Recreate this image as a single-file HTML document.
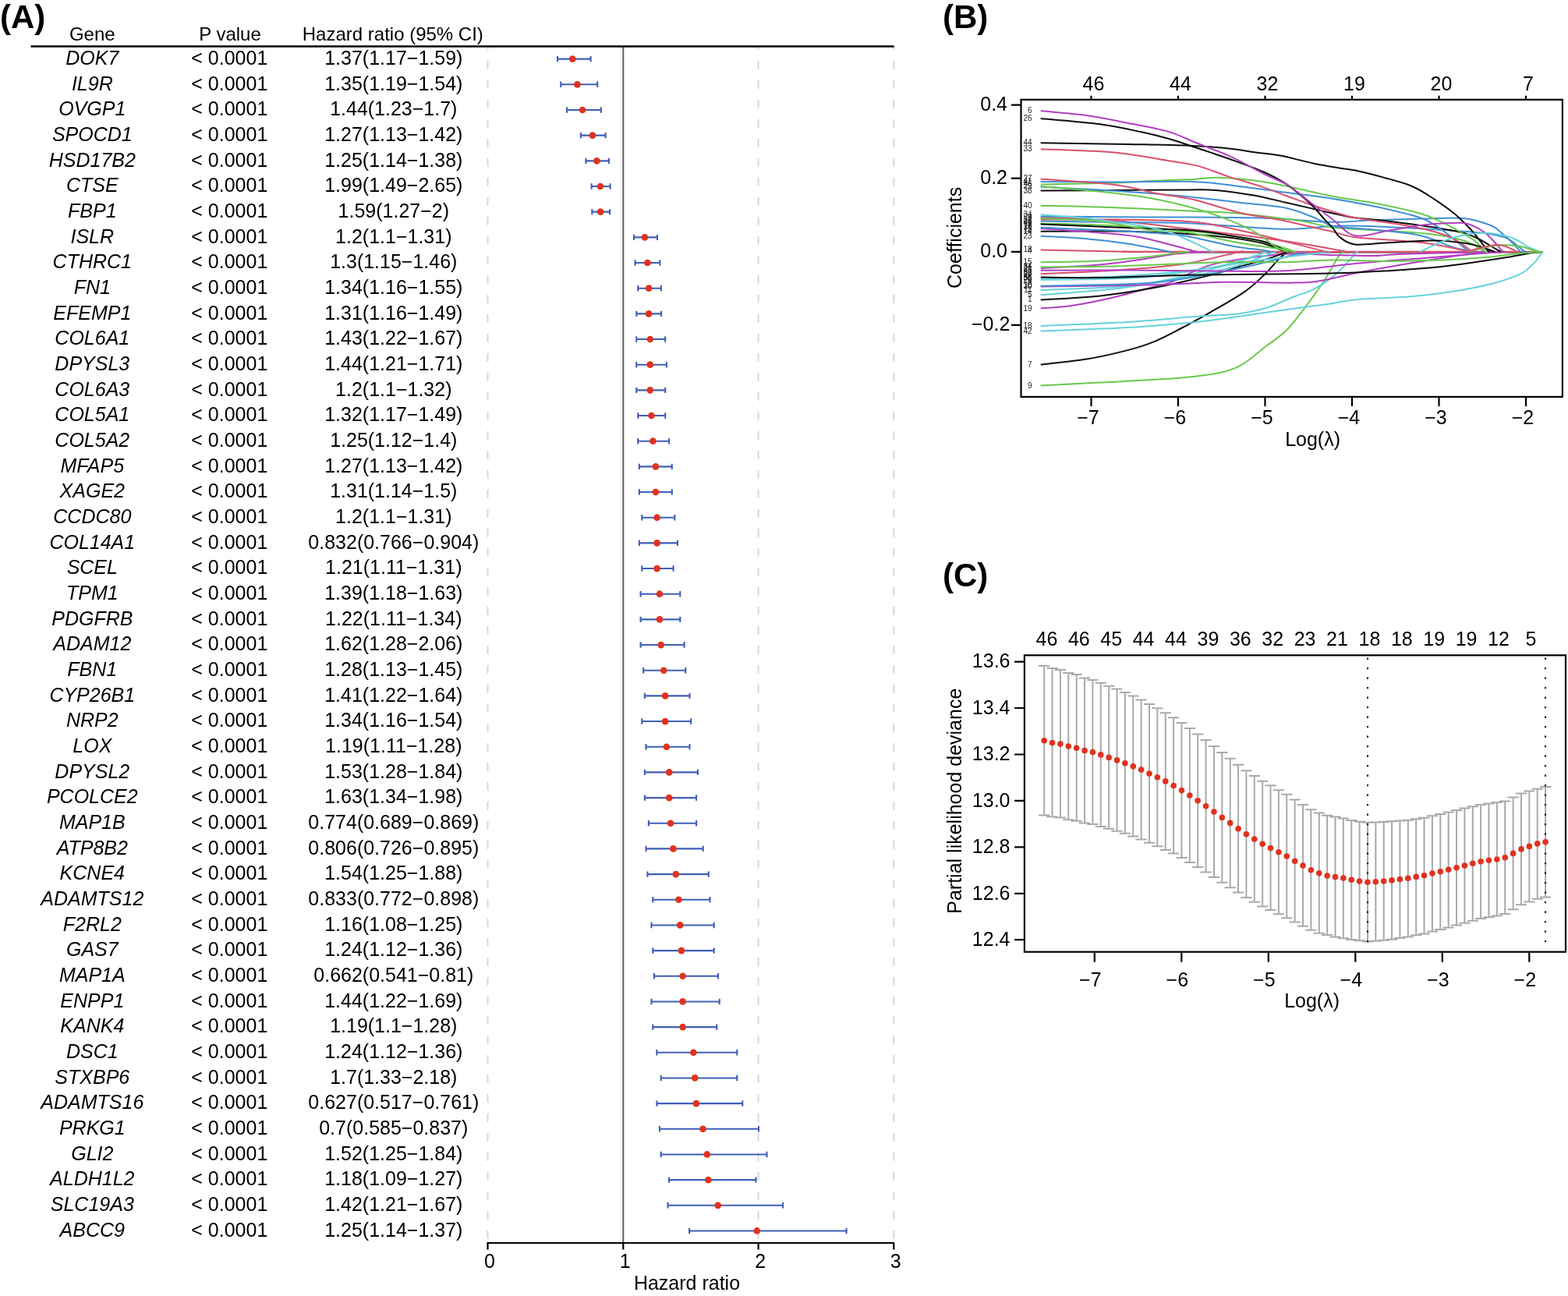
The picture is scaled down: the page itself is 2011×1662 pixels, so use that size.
<!DOCTYPE html>
<html><head><meta charset="utf-8"><title>Figure</title>
<style>html,body{margin:0;padding:0;background:#fff;}svg{display:block;}</style></head>
<body><svg width="2011" height="1662" viewBox="0 0 2011 1662">
<rect width="2011" height="1662" fill="#fff"/>
<line x1="625.5" y1="59" x2="625.5" y2="1594" stroke="#d6d6d6" stroke-width="1.9" stroke-dasharray="10.8 14.2" stroke-dashoffset="6"/>
<line x1="972.6" y1="59" x2="972.6" y2="1594" stroke="#d6d6d6" stroke-width="1.9" stroke-dasharray="10.8 14.2" stroke-dashoffset="6"/>
<line x1="1146.3" y1="59" x2="1146.3" y2="1594" stroke="#d6d6d6" stroke-width="1.9" stroke-dasharray="10.8 14.2" stroke-dashoffset="6"/>
<line x1="799.3" y1="59" x2="799.3" y2="1594" stroke="#5e5e5e" stroke-width="2"/>
<line x1="39.5" y1="59.5" x2="1146.5" y2="59.5" stroke="#000" stroke-width="2.4"/>
<text x="118.3" y="52.2" font-size="24" text-anchor="middle" font-family="Liberation Sans, sans-serif">Gene</text>
<text x="295" y="52.2" font-size="24" text-anchor="middle" font-family="Liberation Sans, sans-serif">P value</text>
<text x="503.8" y="52.2" font-size="24" text-anchor="middle" font-family="Liberation Sans, sans-serif">Hazard ratio (95% CI)</text>
<g font-size="25" font-style="italic" text-anchor="middle" font-family="Liberation Sans, sans-serif"><text x="118.3" y="82.8">DOK7</text><text x="118.3" y="115.5">IL9R</text><text x="118.3" y="148.1">OVGP1</text><text x="118.3" y="180.8">SPOCD1</text><text x="118.3" y="213.5">HSD17B2</text><text x="118.3" y="246.2">CTSE</text><text x="118.3" y="278.8">FBP1</text><text x="118.3" y="311.5">ISLR</text><text x="118.3" y="344.2">CTHRC1</text><text x="118.3" y="376.8">FN1</text><text x="118.3" y="409.5">EFEMP1</text><text x="118.3" y="442.2">COL6A1</text><text x="118.3" y="474.8">DPYSL3</text><text x="118.3" y="507.5">COL6A3</text><text x="118.3" y="540.2">COL5A1</text><text x="118.3" y="572.9">COL5A2</text><text x="118.3" y="605.5">MFAP5</text><text x="118.3" y="638.2">XAGE2</text><text x="118.3" y="670.9">CCDC80</text><text x="118.3" y="703.5">COL14A1</text><text x="118.3" y="736.2">SCEL</text><text x="118.3" y="768.9">TPM1</text><text x="118.3" y="801.5">PDGFRB</text><text x="118.3" y="834.2">ADAM12</text><text x="118.3" y="866.9">FBN1</text><text x="118.3" y="899.5">CYP26B1</text><text x="118.3" y="932.2">NRP2</text><text x="118.3" y="964.9">LOX</text><text x="118.3" y="997.6">DPYSL2</text><text x="118.3" y="1030.2">PCOLCE2</text><text x="118.3" y="1062.9">MAP1B</text><text x="118.3" y="1095.6">ATP8B2</text><text x="118.3" y="1128.2">KCNE4</text><text x="118.3" y="1160.9">ADAMTS12</text><text x="118.3" y="1193.6">F2RL2</text><text x="118.3" y="1226.2">GAS7</text><text x="118.3" y="1258.9">MAP1A</text><text x="118.3" y="1291.6">ENPP1</text><text x="118.3" y="1324.3">KANK4</text><text x="118.3" y="1356.9">DSC1</text><text x="118.3" y="1389.6">STXBP6</text><text x="118.3" y="1422.3">ADAMTS16</text><text x="118.3" y="1454.9">PRKG1</text><text x="118.3" y="1487.6">GLI2</text><text x="118.3" y="1520.3">ALDH1L2</text><text x="118.3" y="1553.0">SLC19A3</text><text x="118.3" y="1585.6">ABCC9</text></g>
<g font-size="25" text-anchor="middle" font-family="Liberation Sans, sans-serif"><text x="294.3" y="82.8">&lt; 0.0001</text><text x="294.3" y="115.5">&lt; 0.0001</text><text x="294.3" y="148.1">&lt; 0.0001</text><text x="294.3" y="180.8">&lt; 0.0001</text><text x="294.3" y="213.5">&lt; 0.0001</text><text x="294.3" y="246.2">&lt; 0.0001</text><text x="294.3" y="278.8">&lt; 0.0001</text><text x="294.3" y="311.5">&lt; 0.0001</text><text x="294.3" y="344.2">&lt; 0.0001</text><text x="294.3" y="376.8">&lt; 0.0001</text><text x="294.3" y="409.5">&lt; 0.0001</text><text x="294.3" y="442.2">&lt; 0.0001</text><text x="294.3" y="474.8">&lt; 0.0001</text><text x="294.3" y="507.5">&lt; 0.0001</text><text x="294.3" y="540.2">&lt; 0.0001</text><text x="294.3" y="572.9">&lt; 0.0001</text><text x="294.3" y="605.5">&lt; 0.0001</text><text x="294.3" y="638.2">&lt; 0.0001</text><text x="294.3" y="670.9">&lt; 0.0001</text><text x="294.3" y="703.5">&lt; 0.0001</text><text x="294.3" y="736.2">&lt; 0.0001</text><text x="294.3" y="768.9">&lt; 0.0001</text><text x="294.3" y="801.5">&lt; 0.0001</text><text x="294.3" y="834.2">&lt; 0.0001</text><text x="294.3" y="866.9">&lt; 0.0001</text><text x="294.3" y="899.5">&lt; 0.0001</text><text x="294.3" y="932.2">&lt; 0.0001</text><text x="294.3" y="964.9">&lt; 0.0001</text><text x="294.3" y="997.6">&lt; 0.0001</text><text x="294.3" y="1030.2">&lt; 0.0001</text><text x="294.3" y="1062.9">&lt; 0.0001</text><text x="294.3" y="1095.6">&lt; 0.0001</text><text x="294.3" y="1128.2">&lt; 0.0001</text><text x="294.3" y="1160.9">&lt; 0.0001</text><text x="294.3" y="1193.6">&lt; 0.0001</text><text x="294.3" y="1226.2">&lt; 0.0001</text><text x="294.3" y="1258.9">&lt; 0.0001</text><text x="294.3" y="1291.6">&lt; 0.0001</text><text x="294.3" y="1324.3">&lt; 0.0001</text><text x="294.3" y="1356.9">&lt; 0.0001</text><text x="294.3" y="1389.6">&lt; 0.0001</text><text x="294.3" y="1422.3">&lt; 0.0001</text><text x="294.3" y="1454.9">&lt; 0.0001</text><text x="294.3" y="1487.6">&lt; 0.0001</text><text x="294.3" y="1520.3">&lt; 0.0001</text><text x="294.3" y="1553.0">&lt; 0.0001</text><text x="294.3" y="1585.6">&lt; 0.0001</text></g>
<g font-size="25" text-anchor="middle" font-family="Liberation Sans, sans-serif"><text x="504.8" y="82.8">1.37(1.17−1.59)</text><text x="504.8" y="115.5">1.35(1.19−1.54)</text><text x="504.8" y="148.1">1.44(1.23−1.7)</text><text x="504.8" y="180.8">1.27(1.13−1.42)</text><text x="504.8" y="213.5">1.25(1.14−1.38)</text><text x="504.8" y="246.2">1.99(1.49−2.65)</text><text x="504.8" y="278.8">1.59(1.27−2)</text><text x="504.8" y="311.5">1.2(1.1−1.31)</text><text x="504.8" y="344.2">1.3(1.15−1.46)</text><text x="504.8" y="376.8">1.34(1.16−1.55)</text><text x="504.8" y="409.5">1.31(1.16−1.49)</text><text x="504.8" y="442.2">1.43(1.22−1.67)</text><text x="504.8" y="474.8">1.44(1.21−1.71)</text><text x="504.8" y="507.5">1.2(1.1−1.32)</text><text x="504.8" y="540.2">1.32(1.17−1.49)</text><text x="504.8" y="572.9">1.25(1.12−1.4)</text><text x="504.8" y="605.5">1.27(1.13−1.42)</text><text x="504.8" y="638.2">1.31(1.14−1.5)</text><text x="504.8" y="670.9">1.2(1.1−1.31)</text><text x="504.8" y="703.5">0.832(0.766−0.904)</text><text x="504.8" y="736.2">1.21(1.11−1.31)</text><text x="504.8" y="768.9">1.39(1.18−1.63)</text><text x="504.8" y="801.5">1.22(1.11−1.34)</text><text x="504.8" y="834.2">1.62(1.28−2.06)</text><text x="504.8" y="866.9">1.28(1.13−1.45)</text><text x="504.8" y="899.5">1.41(1.22−1.64)</text><text x="504.8" y="932.2">1.34(1.16−1.54)</text><text x="504.8" y="964.9">1.19(1.11−1.28)</text><text x="504.8" y="997.6">1.53(1.28−1.84)</text><text x="504.8" y="1030.2">1.63(1.34−1.98)</text><text x="504.8" y="1062.9">0.774(0.689−0.869)</text><text x="504.8" y="1095.6">0.806(0.726−0.895)</text><text x="504.8" y="1128.2">1.54(1.25−1.88)</text><text x="504.8" y="1160.9">0.833(0.772−0.898)</text><text x="504.8" y="1193.6">1.16(1.08−1.25)</text><text x="504.8" y="1226.2">1.24(1.12−1.36)</text><text x="504.8" y="1258.9">0.662(0.541−0.81)</text><text x="504.8" y="1291.6">1.44(1.22−1.69)</text><text x="504.8" y="1324.3">1.19(1.1−1.28)</text><text x="504.8" y="1356.9">1.24(1.12−1.36)</text><text x="504.8" y="1389.6">1.7(1.33−2.18)</text><text x="504.8" y="1422.3">0.627(0.517−0.761)</text><text x="504.8" y="1454.9">0.7(0.585−0.837)</text><text x="504.8" y="1487.6">1.52(1.25−1.84)</text><text x="504.8" y="1520.3">1.18(1.09−1.27)</text><text x="504.8" y="1553.0">1.42(1.21−1.67)</text><text x="504.8" y="1585.6">1.25(1.14−1.37)</text></g>
<g stroke="#3f5fb6" stroke-width="2.1" fill="none"><path d="M715.0 75.65H757.6M715.0 71.95V79.35M757.6 71.95V79.35"/><path d="M719.3 108.32H766.2M719.3 104.62V112.02M766.2 104.62V112.02"/><path d="M727.0 140.99H770.9M727.0 137.29V144.69M770.9 137.29V144.69"/><path d="M744.9 173.66H776.6M744.9 169.96V177.36M776.6 169.96V177.36"/><path d="M751.4 206.33H781.0M751.4 202.63V210.03M781.0 202.63V210.03"/><path d="M758.6 239.00H782.6M758.6 235.30V242.70M782.6 235.30V242.70"/><path d="M759.3 271.67H782.0M759.3 267.97V275.37M782.0 267.97V275.37"/><path d="M813.0 304.34H843.0M813.0 300.64V308.04M843.0 300.64V308.04"/><path d="M814.6 337.01H846.3M814.6 333.31V340.71M846.3 333.31V340.71"/><path d="M818.2 369.68H847.9M818.2 365.98V373.38M847.9 365.98V373.38"/><path d="M816.3 402.35H848.1M816.3 398.65V406.05M848.1 398.65V406.05"/><path d="M816.3 435.02H853.2M816.3 431.32V438.72M853.2 431.32V438.72"/><path d="M816.3 467.69H854.9M816.3 463.99V471.39M854.9 463.99V471.39"/><path d="M816.3 500.36H853.2M816.3 496.66V504.06M853.2 496.66V504.06"/><path d="M818.2 533.03H853.2M818.2 529.33V536.73M853.2 529.33V536.73"/><path d="M818.2 565.70H858.2M818.2 562.00V569.40M858.2 562.00V569.40"/><path d="M819.9 598.37H861.8M819.9 594.67V602.07M861.8 594.67V602.07"/><path d="M819.9 631.04H861.8M819.9 627.34V634.74M861.8 627.34V634.74"/><path d="M823.3 663.71H865.3M823.3 660.01V667.41M865.3 660.01V667.41"/><path d="M819.9 696.38H868.9M819.9 692.68V700.08M868.9 692.68V700.08"/><path d="M823.3 729.05H863.6M823.3 725.35V732.75M863.6 725.35V732.75"/><path d="M821.6 761.72H872.3M821.6 758.02V765.42M872.3 758.02V765.42"/><path d="M821.6 794.39H872.3M821.6 790.69V798.09M872.3 790.69V798.09"/><path d="M821.6 827.06H877.6M821.6 823.36V830.76M877.6 823.36V830.76"/><path d="M825.2 859.73H879.2M825.2 856.03V863.43M879.2 856.03V863.43"/><path d="M826.9 892.40H884.5M826.9 888.70V896.10M884.5 888.70V896.10"/><path d="M823.3 925.07H886.2M823.3 921.37V928.77M886.2 921.37V928.77"/><path d="M828.5 957.74H884.5M828.5 954.04V961.44M884.5 954.04V961.44"/><path d="M826.9 990.41H894.9M826.9 986.71V994.11M894.9 986.71V994.11"/><path d="M826.9 1023.08H893.1M826.9 1019.38V1026.78M893.1 1019.38V1026.78"/><path d="M831.9 1055.75H893.1M831.9 1052.05V1059.45M893.1 1052.05V1059.45"/><path d="M828.5 1088.42H901.7M828.5 1084.72V1092.12M901.7 1084.72V1092.12"/><path d="M830.4 1121.09H908.8M830.4 1117.39V1124.79M908.8 1117.39V1124.79"/><path d="M837.3 1153.76H910.5M837.3 1150.06V1157.46M910.5 1150.06V1157.46"/><path d="M835.5 1186.43H915.7M835.5 1182.73V1190.13M915.7 1182.73V1190.13"/><path d="M837.3 1219.10H915.7M837.3 1215.40V1222.80M915.7 1215.40V1222.80"/><path d="M839.0 1251.77H921.0M839.0 1248.07V1255.47M921.0 1248.07V1255.47"/><path d="M835.5 1284.44H922.7M835.5 1280.74V1288.14M922.7 1280.74V1288.14"/><path d="M837.3 1317.11H919.3M837.3 1313.41V1320.81M919.3 1313.41V1320.81"/><path d="M842.4 1349.78H945.3M842.4 1346.08V1353.48M945.3 1346.08V1353.48"/><path d="M847.7 1382.45H945.3M847.7 1378.75V1386.15M945.3 1378.75V1386.15"/><path d="M842.4 1415.12H952.3M842.4 1411.42V1418.82M952.3 1411.42V1418.82"/><path d="M846.0 1447.79H973.0M846.0 1444.09V1451.49M973.0 1444.09V1451.49"/><path d="M847.7 1480.46H983.5M847.7 1476.76V1484.16M983.5 1476.76V1484.16"/><path d="M858.0 1513.13H969.5M858.0 1509.43V1516.83M969.5 1509.43V1516.83"/><path d="M856.5 1545.80H1004.1M856.5 1542.10V1549.50M1004.1 1542.10V1549.50"/><path d="M884.1 1578.47H1085.6M884.1 1574.77V1582.17M1085.6 1574.77V1582.17"/></g>
<g fill="#e0321f"><circle cx="734.3" cy="75.65" r="4.35"/><circle cx="740.4" cy="108.32" r="4.35"/><circle cx="747.0" cy="140.99" r="4.35"/><circle cx="759.9" cy="173.66" r="4.35"/><circle cx="765.4" cy="206.33" r="4.35"/><circle cx="770.0" cy="239.00" r="4.35"/><circle cx="770.1" cy="271.67" r="4.35"/><circle cx="826.9" cy="304.34" r="4.35"/><circle cx="830.4" cy="337.01" r="4.35"/><circle cx="832.1" cy="369.68" r="4.35"/><circle cx="832.1" cy="402.35" r="4.35"/><circle cx="833.8" cy="435.02" r="4.35"/><circle cx="833.8" cy="467.69" r="4.35"/><circle cx="833.8" cy="500.36" r="4.35"/><circle cx="835.5" cy="533.03" r="4.35"/><circle cx="837.4" cy="565.70" r="4.35"/><circle cx="840.9" cy="598.37" r="4.35"/><circle cx="840.9" cy="631.04" r="4.35"/><circle cx="842.6" cy="663.71" r="4.35"/><circle cx="842.6" cy="696.38" r="4.35"/><circle cx="842.6" cy="729.05" r="4.35"/><circle cx="846.0" cy="761.72" r="4.35"/><circle cx="846.0" cy="794.39" r="4.35"/><circle cx="847.7" cy="827.06" r="4.35"/><circle cx="851.2" cy="859.73" r="4.35"/><circle cx="853.1" cy="892.40" r="4.35"/><circle cx="853.1" cy="925.07" r="4.35"/><circle cx="854.8" cy="957.74" r="4.35"/><circle cx="858.2" cy="990.41" r="4.35"/><circle cx="858.2" cy="1023.08" r="4.35"/><circle cx="860.0" cy="1055.75" r="4.35"/><circle cx="863.4" cy="1088.42" r="4.35"/><circle cx="866.8" cy="1121.09" r="4.35"/><circle cx="870.4" cy="1153.76" r="4.35"/><circle cx="872.2" cy="1186.43" r="4.35"/><circle cx="873.9" cy="1219.10" r="4.35"/><circle cx="875.6" cy="1251.77" r="4.35"/><circle cx="875.6" cy="1284.44" r="4.35"/><circle cx="875.6" cy="1317.11" r="4.35"/><circle cx="889.4" cy="1349.78" r="4.35"/><circle cx="891.2" cy="1382.45" r="4.35"/><circle cx="892.9" cy="1415.12" r="4.35"/><circle cx="901.5" cy="1447.79" r="4.35"/><circle cx="906.8" cy="1480.46" r="4.35"/><circle cx="908.4" cy="1513.13" r="4.35"/><circle cx="920.7" cy="1545.80" r="4.35"/><circle cx="970.8" cy="1578.47" r="4.35"/></g>
<path d="M625.5 1594H1146.3M625.5 1593V1602.5M799.3 1593V1602.5M972.6 1593V1602.5M1146.3 1593V1602.5" stroke="#000" stroke-width="2.2" fill="none"/>
<text x="628.0" y="1626" font-size="25" text-anchor="middle" font-family="Liberation Sans, sans-serif">0</text>
<text x="801.8" y="1626" font-size="25" text-anchor="middle" font-family="Liberation Sans, sans-serif">1</text>
<text x="975.1" y="1626" font-size="25" text-anchor="middle" font-family="Liberation Sans, sans-serif">2</text>
<text x="1148.8" y="1626" font-size="25" text-anchor="middle" font-family="Liberation Sans, sans-serif">3</text>
<text x="881" y="1654.1" font-size="25" text-anchor="middle" font-family="Liberation Sans, sans-serif">Hazard ratio</text>
<text x="0" y="35.8" font-size="42" font-weight="bold" font-family="Liberation Sans, sans-serif">(A)</text>
<path d="M1339.20 854.1V1045.6M1332.10 854.1H1346.30M1332.10 1045.6H1346.30M1349.57 857.1V1047.4M1342.47 857.1H1356.67M1342.47 1047.4H1356.67M1359.94 859.0V1048.6M1352.84 859.0H1367.04M1352.84 1048.6H1367.04M1370.31 863.0V1051.2M1363.21 863.0H1377.41M1363.21 1051.2H1377.41M1380.68 865.1V1052.8M1373.58 865.1H1387.78M1373.58 1052.8H1387.78M1391.05 869.6V1055.4M1383.95 869.6H1398.15M1383.95 1055.4H1398.15M1401.42 871.9V1057.1M1394.32 871.9H1408.52M1394.32 1057.1H1408.52M1411.79 875.7V1059.9M1404.69 875.7H1418.89M1404.69 1059.9H1418.89M1422.15 879.7V1062.7M1415.05 879.7H1429.25M1415.05 1062.7H1429.25M1432.52 883.6V1065.7M1425.42 883.6H1439.62M1425.42 1065.7H1439.62M1442.89 888.1V1068.8M1435.79 888.1H1449.99M1435.79 1068.8H1449.99M1453.26 892.6V1072.5M1446.16 892.6H1460.36M1446.16 1072.5H1460.36M1463.63 897.5V1076.5M1456.53 897.5H1470.73M1456.53 1076.5H1470.73M1474.00 903.1V1080.8M1466.90 903.1H1481.10M1466.90 1080.8H1481.10M1484.37 908.3V1085.2M1477.27 908.3H1491.47M1477.27 1085.2H1491.47M1494.74 914.2V1089.9M1487.64 914.2H1501.84M1487.64 1089.9H1501.84M1505.11 920.3V1094.6M1498.01 920.3H1512.21M1498.01 1094.6H1512.21M1515.48 927.1V1100.0M1508.38 927.1H1522.58M1508.38 1100.0H1522.58M1525.85 933.9V1105.9M1518.75 933.9H1532.95M1518.75 1105.9H1532.95M1536.22 941.4V1112.0M1529.12 941.4H1543.32M1529.12 1112.0H1543.32M1546.59 949.1V1118.6M1539.49 949.1H1553.69M1539.49 1118.6H1553.69M1556.96 956.9V1125.1M1549.86 956.9H1564.06M1549.86 1125.1H1564.06M1567.33 965.1V1131.7M1560.23 965.1H1574.43M1560.23 1131.7H1574.43M1577.70 972.8V1138.3M1570.60 972.8H1584.80M1570.60 1138.3H1584.80M1588.06 980.8V1144.6M1580.96 980.8H1595.16M1580.96 1144.6H1595.16M1598.43 988.3V1150.9M1591.33 988.3H1605.53M1591.33 1150.9H1605.53M1608.80 995.1V1156.8M1601.70 995.1H1615.90M1601.70 1156.8H1615.90M1619.17 1001.7V1162.5M1612.07 1001.7H1626.27M1612.07 1162.5H1626.27M1629.54 1007.3V1167.1M1622.44 1007.3H1636.64M1622.44 1167.1H1636.64M1639.91 1013.2V1172.3M1632.81 1013.2H1647.01M1632.81 1172.3H1647.01M1650.28 1018.8V1177.2M1643.18 1018.8H1657.38M1643.18 1177.2H1657.38M1660.65 1025.4V1182.4M1653.55 1025.4H1667.75M1653.55 1182.4H1667.75M1671.02 1032.0V1187.8M1663.92 1032.0H1678.12M1663.92 1187.8H1678.12M1681.39 1038.3V1192.7M1674.29 1038.3H1688.49M1674.29 1192.7H1688.49M1691.76 1042.5V1196.7M1684.66 1042.5H1698.86M1684.66 1196.7H1698.86M1702.13 1045.8V1199.0M1695.03 1045.8H1709.23M1695.03 1199.0H1709.23M1712.50 1047.4V1201.6M1705.40 1047.4H1719.60M1705.40 1201.6H1719.60M1722.87 1049.6V1203.3M1715.77 1049.6H1729.97M1715.77 1203.3H1729.97M1733.24 1051.9V1204.9M1726.14 1051.9H1740.34M1726.14 1204.9H1740.34M1743.60 1053.8V1206.3M1736.50 1053.8H1750.70M1736.50 1206.3H1750.70M1753.97 1054.7V1207.5M1746.87 1054.7H1761.07M1746.87 1207.5H1761.07M1764.34 1054.5V1206.8M1757.24 1054.5H1771.44M1757.24 1206.8H1771.44M1774.71 1054.0V1205.8M1767.61 1054.0H1781.81M1767.61 1205.8H1781.81M1785.08 1053.3V1204.7M1777.98 1053.3H1792.18M1777.98 1204.7H1792.18M1795.45 1052.6V1203.0M1788.35 1052.6H1802.55M1788.35 1203.0H1802.55M1805.82 1051.7V1201.6M1798.72 1051.7H1812.92M1798.72 1201.6H1812.92M1816.19 1050.3V1199.3M1809.09 1050.3H1823.29M1809.09 1199.3H1823.29M1826.56 1048.8V1197.6M1819.46 1048.8H1833.66M1819.46 1197.6H1833.66M1836.93 1046.3V1194.6M1829.83 1046.3H1844.03M1829.83 1194.6H1844.03M1847.30 1043.9V1192.0M1840.20 1043.9H1854.40M1840.20 1192.0H1854.40M1857.67 1041.6V1189.4M1850.57 1041.6H1864.77M1850.57 1189.4H1864.77M1868.04 1039.0V1186.6M1860.94 1039.0H1875.14M1860.94 1186.6H1875.14M1878.41 1036.6V1183.8M1871.31 1036.6H1885.51M1871.31 1183.8H1885.51M1888.78 1034.3V1180.7M1881.68 1034.3H1895.88M1881.68 1180.7H1895.88M1899.15 1031.9V1177.9M1892.05 1031.9H1906.25M1892.05 1177.9H1906.25M1909.51 1030.5V1176.3M1902.41 1030.5H1916.61M1902.41 1176.3H1916.61M1919.88 1029.1V1174.6M1912.78 1029.1H1926.98M1912.78 1174.6H1926.98M1930.25 1027.5V1172.0M1923.15 1027.5H1937.35M1923.15 1172.0H1937.35M1940.62 1022.6V1166.2M1933.52 1022.6H1947.72M1933.52 1166.2H1947.72M1950.99 1017.4V1160.3M1943.89 1017.4H1958.09M1943.89 1160.3H1958.09M1961.36 1014.6V1156.6M1954.26 1014.6H1968.46M1954.26 1156.6H1968.46M1971.73 1011.8V1152.8M1964.63 1011.8H1978.83M1964.63 1152.8H1978.83M1982.10 1009.0V1150.5M1975.00 1009.0H1989.20M1975.00 1150.5H1989.20" stroke="#a9a9a9" stroke-width="2" fill="none"/>
<line x1="1754.0" y1="843.6" x2="1754.0" y2="1212" stroke="#000" stroke-width="2.1" stroke-dasharray="2.1 10.4" />
<line x1="1982.0" y1="843.6" x2="1982.0" y2="1212" stroke="#000" stroke-width="2.1" stroke-dasharray="2.1 10.4" />
<g fill="#e0321f"><circle cx="1339.20" cy="949.8" r="3.8"/><circle cx="1349.57" cy="952.6" r="3.8"/><circle cx="1359.94" cy="954.0" r="3.8"/><circle cx="1370.31" cy="957.1" r="3.8"/><circle cx="1380.68" cy="959.2" r="3.8"/><circle cx="1391.05" cy="962.5" r="3.8"/><circle cx="1401.42" cy="964.6" r="3.8"/><circle cx="1411.79" cy="967.9" r="3.8"/><circle cx="1422.15" cy="971.4" r="3.8"/><circle cx="1432.52" cy="974.9" r="3.8"/><circle cx="1442.89" cy="978.7" r="3.8"/><circle cx="1453.26" cy="982.7" r="3.8"/><circle cx="1463.63" cy="987.1" r="3.8"/><circle cx="1474.00" cy="992.1" r="3.8"/><circle cx="1484.37" cy="996.8" r="3.8"/><circle cx="1494.74" cy="1001.9" r="3.8"/><circle cx="1505.11" cy="1007.5" r="3.8"/><circle cx="1515.48" cy="1013.6" r="3.8"/><circle cx="1525.85" cy="1020.0" r="3.8"/><circle cx="1536.22" cy="1026.8" r="3.8"/><circle cx="1546.59" cy="1033.8" r="3.8"/><circle cx="1556.96" cy="1041.1" r="3.8"/><circle cx="1567.33" cy="1048.4" r="3.8"/><circle cx="1577.70" cy="1055.4" r="3.8"/><circle cx="1588.06" cy="1062.7" r="3.8"/><circle cx="1598.43" cy="1069.7" r="3.8"/><circle cx="1608.80" cy="1076.1" r="3.8"/><circle cx="1619.17" cy="1082.2" r="3.8"/><circle cx="1629.54" cy="1087.6" r="3.8"/><circle cx="1639.91" cy="1092.7" r="3.8"/><circle cx="1650.28" cy="1098.1" r="3.8"/><circle cx="1660.65" cy="1104.2" r="3.8"/><circle cx="1671.02" cy="1110.1" r="3.8"/><circle cx="1681.39" cy="1115.7" r="3.8"/><circle cx="1691.76" cy="1119.7" r="3.8"/><circle cx="1702.13" cy="1123.0" r="3.8"/><circle cx="1712.50" cy="1124.6" r="3.8"/><circle cx="1722.87" cy="1126.0" r="3.8"/><circle cx="1733.24" cy="1128.2" r="3.8"/><circle cx="1743.60" cy="1130.1" r="3.8"/><circle cx="1753.97" cy="1131.2" r="3.8"/><circle cx="1764.34" cy="1130.7" r="3.8"/><circle cx="1774.71" cy="1130.0" r="3.8"/><circle cx="1785.08" cy="1128.9" r="3.8"/><circle cx="1795.45" cy="1127.5" r="3.8"/><circle cx="1805.82" cy="1126.3" r="3.8"/><circle cx="1816.19" cy="1124.4" r="3.8"/><circle cx="1826.56" cy="1122.8" r="3.8"/><circle cx="1836.93" cy="1120.0" r="3.8"/><circle cx="1847.30" cy="1117.8" r="3.8"/><circle cx="1857.67" cy="1115.2" r="3.8"/><circle cx="1868.04" cy="1112.7" r="3.8"/><circle cx="1878.41" cy="1110.1" r="3.8"/><circle cx="1888.78" cy="1107.3" r="3.8"/><circle cx="1899.15" cy="1104.7" r="3.8"/><circle cx="1909.51" cy="1103.3" r="3.8"/><circle cx="1919.88" cy="1102.1" r="3.8"/><circle cx="1930.25" cy="1099.8" r="3.8"/><circle cx="1940.62" cy="1094.4" r="3.8"/><circle cx="1950.99" cy="1088.9" r="3.8"/><circle cx="1961.36" cy="1085.4" r="3.8"/><circle cx="1971.73" cy="1081.9" r="3.8"/><circle cx="1982.10" cy="1079.7" r="3.8"/></g>
<rect x="1313.9" y="840.3" width="694.1" height="380.4" fill="none" stroke="#000" stroke-width="2.2"/>
<path d="M1403.8 1220.7V1233.7M1515.3 1220.7V1233.7M1626.8 1220.7V1233.7M1738.3 1220.7V1233.7M1849.8 1220.7V1233.7M1961.3 1220.7V1233.7M1313.9 848.6H1301.1000000000001M1313.9 908.0H1301.1000000000001M1313.9 967.5H1301.1000000000001M1313.9 1026.9H1301.1000000000001M1313.9 1086.4H1301.1000000000001M1313.9 1145.8H1301.1000000000001M1313.9 1205.2H1301.1000000000001" stroke="#000" stroke-width="2.2"/>
<text x="1398.3" y="1265" font-size="25" text-anchor="middle" font-family="Liberation Sans, sans-serif">−7</text>
<text x="1509.8" y="1265" font-size="25" text-anchor="middle" font-family="Liberation Sans, sans-serif">−6</text>
<text x="1621.3" y="1265" font-size="25" text-anchor="middle" font-family="Liberation Sans, sans-serif">−5</text>
<text x="1732.8" y="1265" font-size="25" text-anchor="middle" font-family="Liberation Sans, sans-serif">−4</text>
<text x="1844.3" y="1265" font-size="25" text-anchor="middle" font-family="Liberation Sans, sans-serif">−3</text>
<text x="1955.8" y="1265" font-size="25" text-anchor="middle" font-family="Liberation Sans, sans-serif">−2</text>
<text x="1295.5" y="856.4" font-size="25" text-anchor="end" font-family="Liberation Sans, sans-serif">13.6</text>
<text x="1295.5" y="915.8" font-size="25" text-anchor="end" font-family="Liberation Sans, sans-serif">13.4</text>
<text x="1295.5" y="975.3" font-size="25" text-anchor="end" font-family="Liberation Sans, sans-serif">13.2</text>
<text x="1295.5" y="1034.7" font-size="25" text-anchor="end" font-family="Liberation Sans, sans-serif">13.0</text>
<text x="1295.5" y="1094.2" font-size="25" text-anchor="end" font-family="Liberation Sans, sans-serif">12.8</text>
<text x="1295.5" y="1153.6" font-size="25" text-anchor="end" font-family="Liberation Sans, sans-serif">12.6</text>
<text x="1295.5" y="1213.0" font-size="25" text-anchor="end" font-family="Liberation Sans, sans-serif">12.4</text>
<text x="1342.4" y="828.2" font-size="25" text-anchor="middle" font-family="Liberation Sans, sans-serif">46</text>
<text x="1383.8" y="828.2" font-size="25" text-anchor="middle" font-family="Liberation Sans, sans-serif">46</text>
<text x="1425.2" y="828.2" font-size="25" text-anchor="middle" font-family="Liberation Sans, sans-serif">45</text>
<text x="1466.6" y="828.2" font-size="25" text-anchor="middle" font-family="Liberation Sans, sans-serif">44</text>
<text x="1508.0" y="828.2" font-size="25" text-anchor="middle" font-family="Liberation Sans, sans-serif">44</text>
<text x="1549.4" y="828.2" font-size="25" text-anchor="middle" font-family="Liberation Sans, sans-serif">39</text>
<text x="1590.8" y="828.2" font-size="25" text-anchor="middle" font-family="Liberation Sans, sans-serif">36</text>
<text x="1632.2" y="828.2" font-size="25" text-anchor="middle" font-family="Liberation Sans, sans-serif">32</text>
<text x="1673.6" y="828.2" font-size="25" text-anchor="middle" font-family="Liberation Sans, sans-serif">23</text>
<text x="1715.0" y="828.2" font-size="25" text-anchor="middle" font-family="Liberation Sans, sans-serif">21</text>
<text x="1756.4" y="828.2" font-size="25" text-anchor="middle" font-family="Liberation Sans, sans-serif">18</text>
<text x="1797.8" y="828.2" font-size="25" text-anchor="middle" font-family="Liberation Sans, sans-serif">18</text>
<text x="1839.2" y="828.2" font-size="25" text-anchor="middle" font-family="Liberation Sans, sans-serif">19</text>
<text x="1880.6" y="828.2" font-size="25" text-anchor="middle" font-family="Liberation Sans, sans-serif">19</text>
<text x="1922.0" y="828.2" font-size="25" text-anchor="middle" font-family="Liberation Sans, sans-serif">12</text>
<text x="1963.4" y="828.2" font-size="25" text-anchor="middle" font-family="Liberation Sans, sans-serif">5</text>
<text x="1682.6" y="1291.5" font-size="25" text-anchor="middle" font-family="Liberation Sans, sans-serif">Log(λ)</text>
<text transform="translate(1233,1027.2) rotate(-90)" font-size="25" text-anchor="middle" font-family="Liberation Sans, sans-serif">Partial likelihood deviance</text>
<text x="1209" y="751.6" font-size="42" font-weight="bold" font-family="Liberation Sans, sans-serif">(C)</text>
<line x1="1500" y1="324.09999999999997" x2="1978.5" y2="324.09999999999997" stroke="#8e8e8e" stroke-width="1.6"/>
<line x1="1440" y1="322.9" x2="1978.5" y2="322.9" stroke="#d9506e" stroke-width="2.2"/>
<path d="M1334.7 494.5C1347.4 493.9 1379.1 492.4 1410.9 490.6C1442.7 488.8 1496.8 486.6 1525.6 483.5C1554.4 480.4 1567.7 478.6 1583.9 472.1C1600.1 465.6 1611.7 452.8 1622.7 444.7C1633.7 436.6 1641.6 431.7 1650.0 423.5C1658.4 415.3 1664.8 406.2 1673.0 395.3C1681.2 384.4 1692.1 369.4 1699.4 358.2C1706.8 347.0 1713.0 334.1 1717.1 328.2C1721.2 322.3 1722.8 323.8 1724.0 322.9" stroke="#68c94c" stroke-width="2" fill="none" stroke-linejoin="round"/>
<path d="M1334.7 467.6C1344.5 466.4 1374.7 463.7 1393.3 460.6C1411.9 457.5 1431.5 452.9 1446.2 449.1C1460.9 445.3 1469.7 442.5 1481.5 437.6C1493.3 432.8 1505.0 426.2 1516.8 420.0C1528.6 413.8 1538.8 408.2 1552.1 400.6C1565.3 393.0 1584.5 382.3 1596.3 374.1C1608.1 365.9 1615.3 358.2 1622.7 351.2C1630.1 344.1 1636.0 336.2 1640.4 331.8C1644.8 327.4 1646.9 326.2 1649.2 324.7C1651.5 323.2 1653.2 323.2 1654.0 322.9" stroke="#0d0d0d" stroke-width="2" fill="none" stroke-linejoin="round"/>
<path d="M1334.7 424.6C1353.3 423.8 1412.9 421.9 1446.2 420.0C1479.5 418.1 1511.0 415.2 1534.5 412.9C1558.0 410.5 1568.2 408.5 1587.4 405.9C1606.7 403.2 1630.7 399.6 1650.0 397.0C1669.3 394.4 1688.3 392.1 1703.0 390.0C1717.7 387.9 1720.6 386.0 1738.3 384.4C1756.0 382.8 1788.3 382.0 1808.9 380.3C1829.5 378.6 1844.2 376.9 1861.8 374.1C1879.4 371.3 1900.1 367.3 1914.8 363.5C1929.5 359.7 1941.3 355.6 1950.1 351.2C1958.9 346.8 1963.0 341.8 1967.7 337.1C1972.4 332.4 1976.5 325.3 1978.3 322.9" stroke="#66d2da" stroke-width="2" fill="none" stroke-linejoin="round"/>
<path d="M1334.7 417.9C1353.3 417.1 1412.9 414.9 1446.2 412.9C1479.5 410.9 1511.0 407.6 1534.5 405.9C1558.0 404.1 1572.7 404.2 1587.4 402.4C1602.1 400.6 1610.6 399.0 1622.7 395.3C1634.8 391.6 1649.6 384.4 1660.0 380.3C1670.4 376.2 1676.7 375.2 1685.3 370.6C1693.9 366.0 1704.4 358.8 1711.8 352.9C1719.2 347.0 1725.0 340.0 1729.4 335.3C1733.8 330.6 1736.2 326.8 1738.3 324.7C1740.4 322.6 1741.4 323.2 1742.0 322.9" stroke="#66d2da" stroke-width="2" fill="none" stroke-linejoin="round"/>
<path d="M1334.7 395.6C1341.5 395.0 1359.9 394.2 1375.6 391.8C1391.2 389.4 1410.9 385.3 1428.6 381.2C1446.2 377.1 1469.3 370.3 1481.5 367.1C1493.7 363.9 1492.5 365.4 1501.6 361.9C1510.7 358.4 1526.3 349.9 1536.0 345.9C1545.7 341.9 1549.3 340.4 1560.0 337.9C1570.7 335.4 1586.7 332.9 1600.0 331.0C1613.3 329.1 1630.0 327.1 1640.0 326.2C1650.0 325.3 1649.6 325.3 1660.3 325.4C1671.0 325.5 1687.5 326.6 1704.1 327.0C1720.7 327.4 1745.1 328.3 1760.0 328.1C1774.9 327.9 1774.0 326.6 1793.5 325.9C1813.0 325.2 1858.5 324.3 1877.1 323.8C1895.7 323.3 1900.3 323.0 1905.0 322.9" stroke="#b23ec2" stroke-width="2" fill="none" stroke-linejoin="round"/>
<path d="M1334.7 384.4C1347.4 383.6 1386.4 382.0 1410.9 379.4C1435.4 376.8 1458.0 373.2 1481.5 368.8C1505.0 364.4 1534.0 357.4 1552.1 352.9C1570.2 348.4 1578.7 345.0 1590.0 341.8C1601.3 338.6 1610.6 336.6 1620.0 333.8C1629.4 331.0 1641.2 326.7 1646.5 324.9C1651.8 323.1 1651.1 323.2 1652.0 322.9" stroke="#0d0d0d" stroke-width="2" fill="none" stroke-linejoin="round"/>
<path d="M1334.7 378.2C1350.3 376.9 1401.2 373.9 1428.6 370.6C1456.0 367.3 1478.6 362.3 1499.2 358.2C1519.8 354.1 1535.3 350.3 1552.1 345.9C1568.9 341.5 1587.8 335.8 1600.0 332.0C1612.2 328.2 1620.8 324.4 1625.0 322.9" stroke="#66d2da" stroke-width="2" fill="none" stroke-linejoin="round"/>
<path d="M1334.7 372.0C1353.3 371.2 1415.9 369.7 1446.2 367.1C1476.5 364.5 1493.3 360.9 1516.8 356.5C1540.3 352.1 1568.5 345.9 1587.4 340.6C1606.3 335.4 1621.9 327.9 1630.0 325.0C1638.1 322.1 1635.0 323.2 1636.0 322.9" stroke="#66d2da" stroke-width="2" fill="none" stroke-linejoin="round"/>
<path d="M1334.7 367.4C1359.2 367.0 1442.3 366.2 1481.5 365.3C1520.7 364.4 1540.0 362.2 1569.8 361.8C1599.5 361.4 1639.3 362.9 1660.0 362.6C1680.7 362.3 1681.0 362.1 1694.1 360.0C1707.1 357.9 1722.1 353.5 1738.3 350.3C1754.5 347.1 1773.5 343.7 1791.2 340.6C1808.9 337.5 1829.5 334.2 1844.2 331.8C1858.9 329.4 1867.7 327.9 1879.5 326.5C1891.3 325.1 1907.7 324.0 1914.8 323.4C1921.9 322.8 1920.8 323.0 1922.0 322.9" stroke="#b23ec2" stroke-width="2" fill="none" stroke-linejoin="round"/>
<path d="M1334.7 366.7C1356.2 366.2 1430.6 365.5 1463.9 363.5C1497.2 361.5 1511.0 358.5 1534.5 354.7C1558.0 350.9 1584.1 345.3 1605.0 340.6C1625.9 335.9 1648.8 329.4 1660.0 326.5C1671.2 323.6 1670.0 323.5 1672.0 322.9" stroke="#3f8fd4" stroke-width="2" fill="none" stroke-linejoin="round"/>
<path d="M1334.7 358.8C1355.6 358.3 1422.5 358.8 1460.0 356.0C1497.5 353.2 1535.0 346.7 1560.0 342.0C1585.0 337.3 1599.7 331.2 1610.0 328.0C1620.3 324.8 1620.0 323.8 1622.0 322.9" stroke="#66d2da" stroke-width="2" fill="none" stroke-linejoin="round"/>
<path d="M1334.7 357.3C1353.3 356.7 1412.9 355.7 1446.2 353.8C1479.5 351.9 1508.0 349.0 1534.5 345.9C1561.0 342.8 1584.1 338.2 1605.0 335.3C1625.9 332.4 1644.2 330.1 1660.0 328.2C1675.8 326.2 1692.3 324.5 1700.0 323.6C1707.7 322.7 1705.0 323.0 1706.0 322.9" stroke="#66d2da" stroke-width="2" fill="none" stroke-linejoin="round"/>
<path d="M1334.7 355.6C1347.4 355.7 1380.6 356.6 1410.9 356.1C1441.2 355.7 1475.3 353.7 1516.8 352.9C1558.3 352.1 1623.1 351.8 1660.0 351.2C1696.9 350.6 1710.5 350.6 1738.3 349.4C1766.0 348.2 1803.0 346.0 1826.5 344.1C1850.0 342.2 1861.8 340.2 1879.5 337.9C1897.2 335.5 1918.3 332.3 1932.4 330.0C1946.5 327.7 1956.5 325.4 1964.2 324.2C1971.9 323.0 1976.1 323.1 1978.5 322.9" stroke="#0d0d0d" stroke-width="2" fill="none" stroke-linejoin="round"/>
<path d="M1334.7 351.2C1350.3 350.5 1398.2 348.9 1428.6 346.8C1458.9 344.7 1490.3 342.7 1516.8 338.8C1543.3 334.9 1574.9 326.0 1587.4 323.4C1599.9 320.8 1591.2 323.0 1592.0 322.9" stroke="#d9506e" stroke-width="2" fill="none" stroke-linejoin="round"/>
<path d="M1334.7 346.8C1353.9 346.8 1412.5 346.4 1450.0 346.5C1487.5 346.6 1526.7 347.4 1560.0 347.5C1593.3 347.6 1620.3 348.8 1650.0 347.2C1679.7 345.6 1708.9 340.6 1738.3 337.9C1767.7 335.2 1803.0 332.8 1826.5 330.9C1850.0 329.0 1864.8 327.7 1879.5 326.5C1894.2 325.3 1907.4 324.4 1914.8 323.8C1922.2 323.2 1922.5 323.0 1924.0 322.9" stroke="#b23ec2" stroke-width="2" fill="none" stroke-linejoin="round"/>
<path d="M1334.7 344.2C1347.2 343.4 1388.0 341.6 1410.0 339.6C1432.0 337.6 1451.7 334.4 1467.0 332.2C1482.3 330.0 1490.3 327.9 1501.6 326.4C1512.9 324.9 1527.4 324.0 1535.0 323.4C1542.6 322.8 1545.0 323.0 1547.0 322.9" stroke="#b23ec2" stroke-width="2" fill="none" stroke-linejoin="round"/>
<path d="M1334.7 342.4C1350.3 342.2 1401.2 342.1 1428.6 341.5C1456.0 340.9 1475.7 339.7 1499.2 338.8C1522.7 337.9 1544.7 336.6 1569.8 336.2C1594.9 335.8 1626.6 336.6 1650.0 336.2C1673.4 335.8 1688.4 333.8 1710.0 333.6C1731.6 333.4 1756.4 335.0 1779.6 335.0C1802.8 335.0 1828.3 334.4 1849.2 333.6C1870.1 332.8 1888.2 331.6 1905.0 330.1C1921.8 328.6 1937.8 325.9 1950.1 324.7C1962.3 323.5 1973.8 323.2 1978.5 322.9" stroke="#68c94c" stroke-width="2" fill="none" stroke-linejoin="round"/>
<path d="M1334.7 336.2C1347.4 335.9 1386.4 335.7 1410.9 334.4C1435.4 333.1 1465.3 329.9 1481.5 328.2C1497.7 326.5 1500.6 325.3 1508.0 324.4C1515.4 323.5 1523.0 323.1 1526.0 322.9" stroke="#68c94c" stroke-width="2" fill="none" stroke-linejoin="round"/>
<path d="M1334.7 320.4C1350.5 320.8 1410.3 322.2 1429.5 322.6C1448.7 323.0 1446.6 322.8 1450.0 322.9" stroke="#d9506e" stroke-width="2" fill="none" stroke-linejoin="round"/>
<path d="M1334.7 302.7C1344.5 303.3 1374.7 304.6 1393.3 306.2C1411.9 307.8 1431.9 310.3 1446.2 312.4C1460.5 314.5 1470.4 316.9 1479.2 318.6C1488.0 320.3 1495.0 321.9 1499.0 322.6C1503.0 323.3 1502.3 322.8 1503.0 322.9" stroke="#3f8fd4" stroke-width="2" fill="none" stroke-linejoin="round"/>
<path d="M1334.7 296.8C1350.6 296.8 1405.8 296.4 1430.0 296.6C1454.2 296.8 1463.3 297.4 1480.0 298.0C1496.7 298.6 1513.4 299.3 1530.0 300.5C1546.6 301.7 1564.8 303.1 1579.7 305.0C1594.6 306.9 1608.6 309.3 1619.5 312.0C1630.4 314.7 1639.9 319.6 1645.0 321.4C1650.1 323.2 1649.2 322.6 1650.0 322.9" stroke="#0d0d0d" stroke-width="2" fill="none" stroke-linejoin="round"/>
<path d="M1334.7 293.1C1345.5 293.9 1378.8 296.0 1399.6 297.8C1420.4 299.6 1439.4 300.2 1459.3 303.7C1479.2 307.2 1507.2 315.6 1519.0 318.6C1530.8 321.6 1527.2 320.9 1530.0 321.6C1532.8 322.3 1535.0 322.7 1536.0 322.9" stroke="#b23ec2" stroke-width="2" fill="none" stroke-linejoin="round"/>
<path d="M1334.7 291.8C1350.6 292.5 1405.9 294.6 1430.0 295.8C1454.1 297.0 1464.2 297.7 1479.2 298.8C1494.2 299.9 1503.2 299.7 1520.0 302.5C1536.8 305.3 1563.1 312.3 1579.7 315.4C1596.3 318.4 1611.1 319.6 1619.5 320.8C1627.9 322.1 1628.2 322.5 1630.0 322.9" stroke="#3f8fd4" stroke-width="2" fill="none" stroke-linejoin="round"/>
<path d="M1334.7 286.4C1350.6 286.9 1397.5 287.8 1430.0 289.5C1462.5 291.2 1501.7 293.8 1530.0 296.5C1558.3 299.2 1581.7 302.8 1600.0 306.0C1618.3 309.2 1629.7 313.2 1640.0 316.0C1650.3 318.8 1658.3 321.8 1662.0 322.9" stroke="#68c94c" stroke-width="2" fill="none" stroke-linejoin="round"/>
<path d="M1334.7 278.4C1350.6 279.2 1399.1 280.6 1430.0 283.0C1460.9 285.4 1491.7 289.9 1520.0 293.1C1548.3 296.4 1574.7 299.3 1599.6 302.5C1624.5 305.7 1649.1 309.2 1669.2 312.4C1689.3 315.5 1710.5 319.6 1720.0 321.4C1729.5 323.1 1725.0 322.6 1726.0 322.9" stroke="#d9506e" stroke-width="2" fill="none" stroke-linejoin="round"/>
<path d="M1334.7 287.4C1350.6 288.1 1397.5 290.2 1430.0 291.6C1462.5 293.0 1505.0 293.8 1530.0 295.6C1555.0 297.4 1564.8 300.2 1579.7 302.5C1594.6 304.8 1607.9 306.4 1619.5 309.5C1631.1 312.6 1643.5 319.2 1649.3 321.4C1655.0 323.6 1653.2 322.6 1654.0 322.9" stroke="#0d0d0d" stroke-width="2" fill="none" stroke-linejoin="round"/>
<path d="M1334.7 283.6C1350.6 283.9 1399.1 284.7 1430.0 285.1C1460.9 285.5 1485.1 284.7 1520.0 286.1C1554.9 287.5 1611.1 292.7 1639.3 293.6C1667.5 294.5 1675.6 292.3 1689.1 291.6C1702.5 290.9 1707.2 289.8 1720.0 289.6C1732.8 289.4 1748.8 289.8 1765.7 290.4C1782.6 291.0 1802.8 292.1 1821.4 293.2C1840.0 294.2 1862.0 295.5 1877.1 296.7C1892.2 297.9 1902.6 298.7 1911.9 300.2C1921.2 301.7 1927.0 303.1 1932.8 305.7C1938.6 308.2 1943.0 312.7 1946.7 315.5C1950.4 318.3 1953.1 321.2 1955.0 322.4C1956.9 323.6 1957.5 322.8 1958.0 322.9" stroke="#3f8fd4" stroke-width="2" fill="none" stroke-linejoin="round"/>
<path d="M1334.7 281.6C1350.6 281.6 1397.5 281.1 1430.0 281.6C1462.5 282.1 1501.7 282.0 1530.0 284.6C1558.3 287.2 1579.6 293.3 1599.6 297.5C1619.6 301.7 1633.4 305.9 1650.0 310.0C1666.6 314.1 1690.2 320.2 1699.0 322.4C1707.8 324.5 1702.3 322.8 1703.0 322.9" stroke="#d9506e" stroke-width="2" fill="none" stroke-linejoin="round"/>
<path d="M1334.7 280.1C1347.2 280.7 1385.5 281.2 1409.6 283.8C1433.7 286.4 1460.8 293.5 1479.2 295.8C1497.6 298.1 1501.6 294.9 1520.0 297.5C1538.4 300.1 1568.0 307.7 1589.6 311.5C1611.1 315.3 1637.2 318.5 1649.3 320.4C1661.4 322.3 1659.9 322.5 1662.0 322.9" stroke="#68c94c" stroke-width="2" fill="none" stroke-linejoin="round"/>
<path d="M1334.7 277.5C1350.6 277.6 1397.5 278.1 1430.0 278.3C1462.5 278.5 1498.4 278.4 1530.0 278.6C1561.6 278.8 1589.5 278.6 1619.5 279.6C1649.5 280.6 1688.0 284.3 1710.0 284.8C1732.0 285.3 1733.2 283.4 1751.8 282.7C1770.4 282.0 1800.5 281.1 1821.4 280.6C1842.3 280.2 1862.0 278.6 1877.1 280.0C1892.2 281.4 1903.8 285.9 1911.9 289.0C1920.0 292.1 1921.2 295.1 1925.8 298.8C1930.4 302.5 1935.8 307.4 1939.7 311.3C1943.7 315.2 1947.5 320.5 1949.5 322.4C1951.5 324.3 1951.6 322.8 1952.0 322.9" stroke="#3f8fd4" stroke-width="2" fill="none" stroke-linejoin="round"/>
<path d="M1334.7 275.2C1345.5 276.1 1383.7 278.8 1399.6 280.4C1415.5 282.0 1420.0 283.6 1430.0 285.0C1440.0 286.4 1447.8 286.7 1459.3 288.8C1470.8 290.9 1487.2 294.2 1499.0 297.8C1510.8 301.4 1521.5 306.9 1530.0 310.7C1538.5 314.5 1545.5 318.4 1549.8 320.4C1554.1 322.4 1555.0 322.5 1556.0 322.9" stroke="#66d2da" stroke-width="2" fill="none" stroke-linejoin="round"/>
<path d="M1334.7 263.7C1350.6 264.1 1397.5 265.0 1430.0 266.2C1462.5 267.4 1503.4 269.4 1530.0 270.7C1556.6 271.9 1566.4 271.5 1589.6 273.7C1612.8 275.9 1649.1 280.6 1669.2 283.6C1689.3 286.6 1691.6 289.7 1710.0 291.8C1728.4 293.9 1758.7 294.6 1779.6 296.0C1800.5 297.4 1819.0 298.1 1835.3 300.2C1851.5 302.3 1866.0 305.0 1877.1 308.5C1888.2 312.0 1897.4 318.6 1902.1 321.0C1906.8 323.4 1904.5 322.6 1905.0 322.9" stroke="#68c94c" stroke-width="2" fill="none" stroke-linejoin="round"/>
<path d="M1334.7 244.6C1350.6 244.5 1399.1 244.2 1430.0 244.0C1460.9 243.8 1498.4 243.4 1520.0 243.4C1541.6 243.4 1544.9 242.7 1559.8 243.9C1574.7 245.1 1594.6 248.2 1609.5 250.8C1624.4 253.5 1632.5 256.0 1649.3 259.8C1666.0 263.6 1695.2 270.4 1710.0 273.7C1724.8 276.9 1726.2 277.7 1737.8 279.3C1749.4 280.9 1765.7 281.8 1779.6 283.4C1793.5 285.0 1809.8 287.4 1821.4 289.0C1833.0 290.6 1839.9 291.6 1849.2 293.2C1858.5 294.8 1869.0 296.5 1877.1 298.8C1885.2 301.1 1892.2 304.3 1898.0 307.1C1903.8 309.9 1908.0 313.2 1911.9 315.5C1915.8 317.8 1919.4 319.8 1921.6 321.0C1923.8 322.2 1924.4 322.6 1925.0 322.9" stroke="#0d0d0d" stroke-width="2" fill="none" stroke-linejoin="round"/>
<path d="M1334.7 239.6C1350.6 240.5 1399.1 242.8 1430.0 244.8C1460.9 246.8 1493.4 249.3 1520.0 251.8C1546.6 254.3 1568.0 257.3 1589.6 259.8C1611.1 262.3 1632.7 263.2 1649.3 266.7C1665.9 270.2 1679.0 276.7 1689.1 280.6C1699.2 284.5 1697.2 287.6 1710.0 290.0C1722.8 292.4 1747.1 293.0 1765.7 295.0C1784.3 297.0 1805.2 298.4 1821.4 302.0C1837.7 305.6 1853.0 313.6 1863.2 316.9C1873.4 320.2 1878.9 320.7 1882.7 321.7C1886.5 322.7 1885.5 322.7 1886.0 322.9" stroke="#3f8fd4" stroke-width="2" fill="none" stroke-linejoin="round"/>
<path d="M1334.7 238.9C1350.6 240.4 1405.8 245.1 1430.0 247.8C1454.2 250.5 1463.3 251.8 1480.0 255.0C1496.7 258.1 1515.0 262.6 1530.0 266.7C1545.0 270.8 1556.5 274.5 1569.7 279.6C1583.0 284.7 1598.7 291.5 1609.5 297.5C1620.3 303.5 1627.8 311.2 1634.4 315.4C1641.0 319.5 1646.2 321.1 1649.3 322.4C1652.4 323.6 1652.4 322.8 1653.0 322.9" stroke="#68c94c" stroke-width="2" fill="none" stroke-linejoin="round"/>
<path d="M1334.7 236.4C1350.6 236.1 1405.5 235.2 1430.0 234.4C1454.5 233.6 1464.8 232.6 1481.5 231.8C1498.2 231.1 1516.1 230.6 1530.0 229.9C1543.9 229.2 1549.9 227.3 1564.8 227.8C1579.7 228.3 1602.1 230.4 1619.5 232.9C1636.9 235.4 1654.1 239.7 1669.2 242.9C1684.3 246.1 1693.9 249.1 1710.0 252.1C1726.1 255.1 1747.1 257.5 1765.7 261.1C1784.3 264.7 1807.5 269.8 1821.4 273.7C1835.3 277.6 1841.1 281.1 1849.2 284.8C1857.3 288.5 1863.1 292.1 1870.1 296.0C1877.1 299.9 1885.2 304.1 1891.0 308.5C1896.8 312.9 1902.2 320.0 1905.0 322.4C1907.8 324.8 1907.5 322.8 1908.0 322.9" stroke="#68c94c" stroke-width="2" fill="none" stroke-linejoin="round"/>
<path d="M1334.7 232.9C1350.6 233.0 1397.5 233.4 1430.0 233.4C1462.5 233.4 1503.4 232.0 1530.0 232.9C1556.6 233.8 1569.7 236.6 1589.6 238.9C1609.5 241.2 1629.2 244.1 1649.3 246.8C1669.4 249.5 1690.6 251.8 1710.0 254.9C1729.4 258.0 1749.5 261.9 1765.7 265.3C1782.0 268.7 1797.0 272.3 1807.5 275.1C1818.0 277.9 1821.5 278.8 1828.4 282.0C1835.4 285.2 1842.2 289.7 1849.2 294.6C1856.2 299.5 1864.5 306.8 1870.1 311.3C1875.7 315.8 1880.2 319.8 1882.7 321.7C1885.2 323.6 1884.6 322.7 1885.0 322.9" stroke="#3f8fd4" stroke-width="2" fill="none" stroke-linejoin="round"/>
<path d="M1334.7 229.4C1350.6 230.7 1405.5 233.9 1430.0 236.9C1454.5 239.9 1464.8 244.5 1481.5 247.7C1498.2 250.8 1512.0 251.6 1530.0 255.8C1548.0 260.0 1571.4 268.4 1589.6 272.7C1607.8 277.0 1622.7 278.3 1639.3 281.6C1655.9 284.9 1677.3 290.0 1689.1 292.6C1700.9 295.2 1701.9 295.4 1710.0 297.4C1718.1 299.3 1723.9 302.4 1737.8 304.3C1751.7 306.2 1777.2 307.1 1793.5 308.5C1809.8 309.9 1821.4 310.6 1835.3 312.7C1849.2 314.8 1869.5 319.3 1877.1 321.0C1884.7 322.7 1880.3 322.6 1881.0 322.9" stroke="#d9506e" stroke-width="2" fill="none" stroke-linejoin="round"/>
<path d="M1334.7 191.2C1350.3 191.9 1401.2 193.1 1428.6 195.6C1456.0 198.1 1481.5 203.4 1499.2 206.2C1516.9 209.0 1524.7 210.1 1534.5 212.4C1544.3 214.7 1550.5 217.5 1557.8 220.0C1565.1 222.5 1568.3 224.1 1578.6 227.4C1588.9 230.7 1607.6 235.9 1619.5 239.9C1631.4 243.9 1640.1 247.5 1650.0 251.2C1659.9 254.8 1669.1 258.4 1679.1 261.8C1689.1 265.2 1700.2 268.7 1710.0 271.6C1719.8 274.5 1723.9 276.6 1737.8 279.3C1751.7 282.0 1777.2 284.8 1793.5 287.6C1809.8 290.4 1823.7 293.0 1835.3 296.0C1846.9 299.0 1855.1 301.8 1863.2 305.7C1871.3 309.6 1879.7 316.8 1884.0 319.7C1888.3 322.6 1888.2 322.4 1889.0 322.9" stroke="#d9506e" stroke-width="2" fill="none" stroke-linejoin="round"/>
<path d="M1334.7 183.3C1353.3 183.6 1414.4 184.4 1446.2 185.0C1478.0 185.6 1503.6 185.9 1525.7 186.8C1547.8 187.8 1565.4 189.4 1578.6 190.7C1591.8 192.0 1594.8 193.3 1605.1 194.7C1615.4 196.1 1631.2 197.7 1640.4 199.2C1649.6 200.7 1652.5 201.8 1660.0 203.6C1667.5 205.3 1675.2 207.6 1685.3 209.7C1695.4 211.8 1711.8 214.4 1720.6 215.9C1729.4 217.4 1729.5 216.7 1738.3 218.6C1747.1 220.5 1761.8 224.2 1773.6 227.4C1785.4 230.6 1799.3 234.2 1808.9 238.0C1818.5 241.8 1822.0 244.3 1831.1 250.0C1840.1 255.7 1854.4 265.3 1863.2 272.3C1872.0 279.3 1878.2 285.8 1884.0 291.8C1889.8 297.8 1894.0 303.6 1898.0 308.5C1902.0 313.4 1905.5 318.6 1907.7 321.0C1909.9 323.4 1910.5 322.6 1911.0 322.9" stroke="#0d0d0d" stroke-width="2" fill="none" stroke-linejoin="round"/>
<path d="M1334.7 152.0C1347.4 153.2 1389.4 156.4 1410.9 159.3C1432.4 162.2 1449.2 166.2 1463.9 169.3C1478.6 172.4 1487.4 174.6 1499.2 178.0C1511.0 181.4 1521.3 185.1 1534.5 189.5C1547.7 193.9 1564.4 199.4 1578.6 204.5C1592.8 209.6 1607.7 214.8 1619.5 220.0C1631.3 225.2 1639.4 229.3 1649.3 235.9C1659.2 242.5 1670.8 252.2 1679.1 259.8C1687.4 267.4 1693.8 276.0 1699.0 281.6C1704.2 287.2 1706.8 289.4 1710.0 293.2C1713.2 297.0 1713.8 300.9 1718.4 304.3C1723.0 307.7 1727.6 312.2 1737.8 313.4C1748.0 314.6 1763.3 312.1 1779.6 311.3C1795.8 310.5 1821.4 308.7 1835.3 308.5C1849.2 308.3 1853.9 309.0 1863.2 309.9C1872.5 310.8 1882.9 312.2 1891.0 314.1C1899.1 316.0 1907.6 319.5 1911.9 321.0C1916.2 322.5 1916.2 322.6 1917.0 322.9" stroke="#0d0d0d" stroke-width="2" fill="none" stroke-linejoin="round"/>
<path d="M1334.7 142.1C1344.5 143.1 1374.7 145.4 1393.3 148.0C1411.9 150.6 1428.5 154.2 1446.2 157.7C1463.9 161.2 1484.5 164.8 1499.2 169.1C1513.9 173.4 1521.3 178.0 1534.5 183.3C1547.7 188.6 1563.9 194.1 1578.6 200.9C1593.3 207.7 1610.5 217.8 1622.7 223.9C1634.9 230.0 1642.5 231.7 1652.0 237.5C1661.5 243.3 1670.3 251.6 1680.0 259.0C1689.7 266.4 1700.4 274.8 1710.0 282.0C1719.6 289.2 1726.2 299.9 1737.8 302.2C1749.4 304.5 1765.7 298.2 1779.6 296.0C1793.5 293.8 1809.8 290.6 1821.4 289.0C1833.0 287.4 1839.9 287.0 1849.2 286.5C1858.5 286.0 1870.1 285.2 1877.1 285.9C1884.1 286.5 1886.3 288.2 1891.0 290.4C1895.7 292.5 1900.3 295.1 1905.0 298.8C1909.7 302.5 1915.4 309.0 1918.9 312.7C1922.4 316.4 1924.0 319.3 1925.8 321.0C1927.6 322.7 1929.3 322.6 1930.0 322.9" stroke="#b23ec2" stroke-width="2" fill="none" stroke-linejoin="round"/>
<path d="M1821.4 322.9C1826.0 320.7 1839.9 313.5 1849.2 309.9C1858.5 306.3 1867.8 303.4 1877.1 301.5C1886.4 299.6 1895.7 298.6 1905.0 298.8C1914.3 299.0 1925.8 301.3 1932.8 302.9C1939.8 304.5 1942.1 306.2 1946.7 308.5C1951.3 310.8 1955.9 314.5 1960.6 316.9C1965.2 319.3 1972.3 321.9 1974.6 322.9" stroke="#66d2da" stroke-width="2" fill="none" stroke-linejoin="round"/>
<path d="M1884.0 322.9C1889.8 321.5 1908.5 316.0 1918.9 314.8C1929.4 313.6 1938.6 314.5 1946.7 315.5C1954.8 316.5 1962.9 319.8 1967.6 321.0C1972.3 322.2 1973.8 322.6 1975.0 322.9" stroke="#68c94c" stroke-width="2" fill="none" stroke-linejoin="round"/>
<path d="M1880.0 322.9C1886.5 321.4 1909.0 314.6 1918.9 314.1C1928.9 313.6 1935.4 318.2 1939.7 319.7C1944.0 321.2 1944.1 322.4 1945.0 322.9" stroke="#d9506e" stroke-width="2" fill="none" stroke-linejoin="round"/>
<g font-size="10" text-anchor="end" fill="#1a1a1a" font-family="Liberation Sans, sans-serif"><text x="1323.5" y="145.1">6</text><text x="1323.5" y="155.0">26</text><text x="1323.5" y="186.3">44</text><text x="1323.5" y="194.2">33</text><text x="1323.5" y="232.4">27</text><text x="1323.5" y="235.9">41</text><text x="1323.5" y="239.4">46</text><text x="1323.5" y="241.9">29</text><text x="1323.5" y="247.6">38</text><text x="1323.5" y="266.7">40</text><text x="1323.5" y="278.2">34</text><text x="1323.5" y="280.5">24</text><text x="1323.5" y="282.5">3</text><text x="1323.5" y="284.6">31</text><text x="1323.5" y="286.6">43</text><text x="1323.5" y="288.6">45</text><text x="1323.5" y="290.4">2</text><text x="1323.5" y="292.5">12</text><text x="1323.5" y="294.8">39</text><text x="1323.5" y="296.6">13</text><text x="1323.5" y="299.8">14</text><text x="1323.5" y="305.7">23</text><text x="1323.5" y="323.4">18</text><text x="1323.5" y="324.6">4</text><text x="1323.5" y="339.2">15</text><text x="1323.5" y="345.4">34</text><text x="1323.5" y="347.2">21</text><text x="1323.5" y="348.9">25</text><text x="1323.5" y="351.5">32</text><text x="1323.5" y="354.2">28</text><text x="1323.5" y="356.0">22</text><text x="1323.5" y="358.6">35</text><text x="1323.5" y="360.3">36</text><text x="1323.5" y="362.0">20</text><text x="1323.5" y="365.0">8</text><text x="1323.5" y="369.7">30</text><text x="1323.5" y="370.4">10</text><text x="1323.5" y="375.0">11</text><text x="1323.5" y="381.2">5</text><text x="1323.5" y="387.4">1</text><text x="1323.5" y="398.6">19</text><text x="1323.5" y="420.9">18</text><text x="1323.5" y="427.6">42</text><text x="1323.5" y="470.6">7</text><text x="1323.5" y="497.5">9</text></g>
<rect x="1309.5" y="127.8" width="694.4" height="381.1" fill="none" stroke="#000" stroke-width="2.2"/>
<path d="M1399.5 508.9V520.9M1399.5 127.8V122.8M1511.0 508.9V520.9M1511.0 127.8V122.8M1622.5 508.9V520.9M1622.5 127.8V122.8M1734.0 508.9V520.9M1734.0 127.8V122.8M1845.5 508.9V520.9M1845.5 127.8V122.8M1957.0 508.9V520.9M1957.0 127.8V122.8M1309.5 134.6H1296.9M1309.5 228.7H1296.9M1309.5 322.8H1296.9M1309.5 416.9H1296.9" stroke="#000" stroke-width="2.2"/>
<text x="1395.5" y="543.6" font-size="25" text-anchor="middle" font-family="Liberation Sans, sans-serif">−7</text>
<text x="1507.0" y="543.6" font-size="25" text-anchor="middle" font-family="Liberation Sans, sans-serif">−6</text>
<text x="1618.5" y="543.6" font-size="25" text-anchor="middle" font-family="Liberation Sans, sans-serif">−5</text>
<text x="1730.0" y="543.6" font-size="25" text-anchor="middle" font-family="Liberation Sans, sans-serif">−4</text>
<text x="1841.5" y="543.6" font-size="25" text-anchor="middle" font-family="Liberation Sans, sans-serif">−3</text>
<text x="1953.0" y="543.6" font-size="25" text-anchor="middle" font-family="Liberation Sans, sans-serif">−2</text>
<text x="1292" y="142.0" font-size="25" text-anchor="end" font-family="Liberation Sans, sans-serif">0.4</text>
<text x="1292" y="236.1" font-size="25" text-anchor="end" font-family="Liberation Sans, sans-serif">0.2</text>
<text x="1292" y="330.2" font-size="25" text-anchor="end" font-family="Liberation Sans, sans-serif">0.0</text>
<text x="1295.3" y="424.3" font-size="25" text-anchor="end" font-family="Liberation Sans, sans-serif">−0.2</text>
<text x="1402.5" y="115.7" font-size="25" text-anchor="middle" font-family="Liberation Sans, sans-serif">46</text>
<text x="1514.0" y="115.7" font-size="25" text-anchor="middle" font-family="Liberation Sans, sans-serif">44</text>
<text x="1625.5" y="115.7" font-size="25" text-anchor="middle" font-family="Liberation Sans, sans-serif">32</text>
<text x="1737.0" y="115.7" font-size="25" text-anchor="middle" font-family="Liberation Sans, sans-serif">19</text>
<text x="1848.5" y="115.7" font-size="25" text-anchor="middle" font-family="Liberation Sans, sans-serif">20</text>
<text x="1960.0" y="115.7" font-size="25" text-anchor="middle" font-family="Liberation Sans, sans-serif">7</text>
<text x="1683.6" y="572.1" font-size="25" text-anchor="middle" font-family="Liberation Sans, sans-serif">Log(λ)</text>
<text transform="translate(1232.5,304.9) rotate(-90)" font-size="25" text-anchor="middle" font-family="Liberation Sans, sans-serif">Coefficients</text>
<text x="1209" y="35.8" font-size="42" font-weight="bold" font-family="Liberation Sans, sans-serif">(B)</text>
</svg></body></html>
